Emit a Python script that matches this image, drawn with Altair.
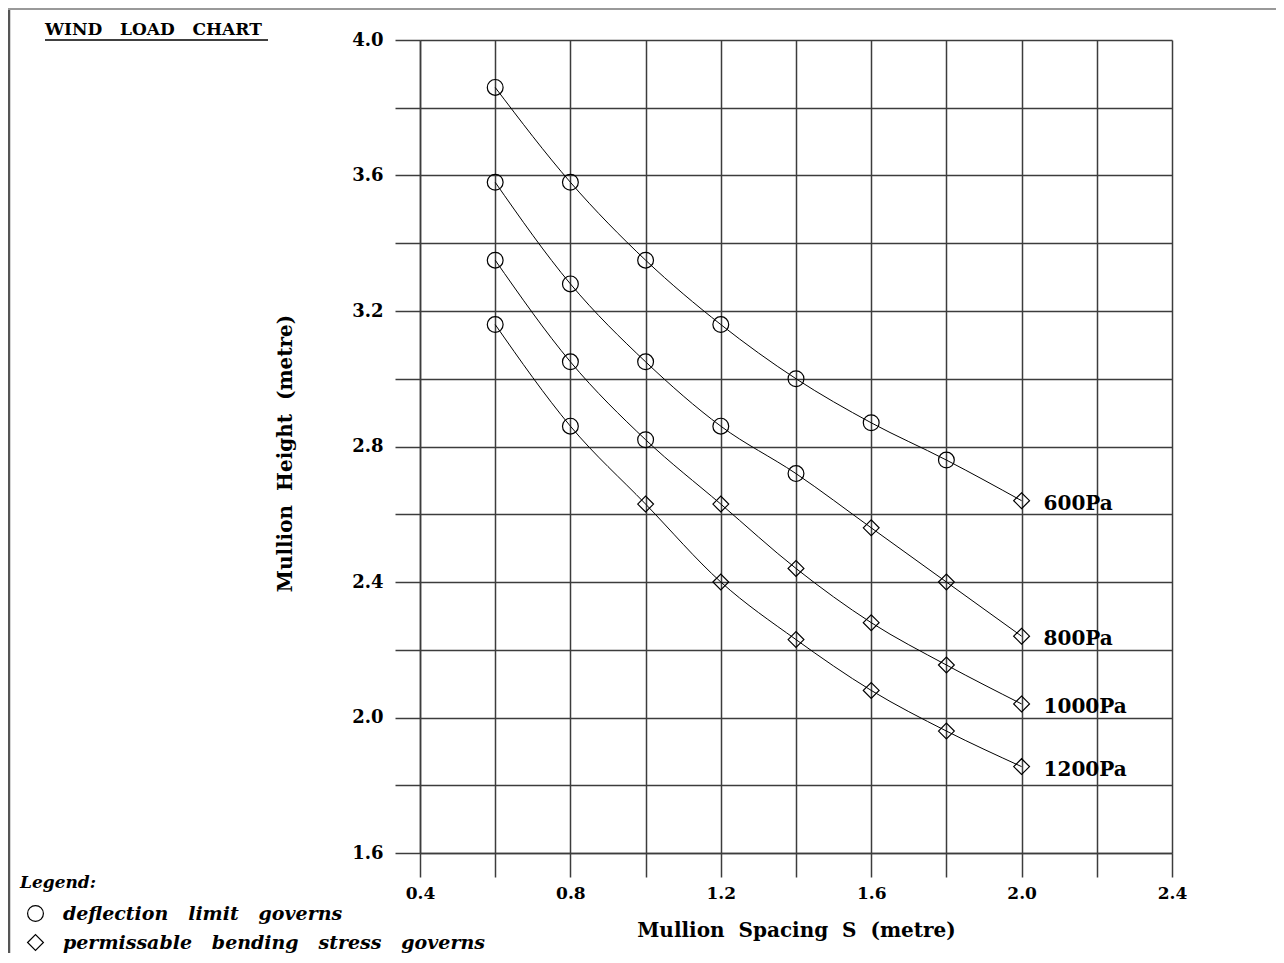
import altair as alt
import pandas as pd

# ---- data ----
spacing = [0.6, 0.8, 1.0, 1.2, 1.4, 1.6, 1.8, 2.0]
loads = ["600Pa", "800Pa", "1000Pa", "1200Pa"]
h600 = [3.86, 3.58, 3.35, 3.16, 3.00, 2.87, 2.76, 2.64]
h800 = [3.58, 3.28, 3.05, 2.86, 2.72, 2.56, 2.40, 2.24]
h1000 = [3.35, 3.05, 2.82, 2.63, 2.44, 2.28, 2.155, 2.04]
h1200 = [3.16, 2.86, 2.63, 2.40, 2.23, 2.08, 1.96, 1.855]
# largest spacing at which the deflection limit still governs (circle markers)
deflection_up_to = [1.8, 1.4, 1.0, 0.8]

SP3 = "\u00a0\u00a0\u00a0"
SP2 = "\u00a0\u00a0"
governs_names = ["deflection" + SP3 + "limit" + SP3 + "governs",
                 "permissable" + SP3 + "bending" + SP3 + "stress" + SP3 + "governs"]

x_ticks = [0.4, 0.5, 0.6, 0.7, 0.8, 0.9, 1.0, 1.1, 1.2, 1.3, 1.4, 1.5, 1.6, 1.7,
           1.8, 1.9, 2.0, 2.1, 2.2, 2.3, 2.4]
y_ticks = [1.6, 1.7, 1.8, 1.9, 2.0, 2.1, 2.2, 2.3, 2.4, 2.5, 2.6, 2.7, 2.8, 2.9,
           3.0, 3.1, 3.2, 3.3, 3.4, 3.5, 3.6, 3.7, 3.8, 3.9, 4.0]

title_text = "WIND" + SP3 + "LOAD" + SP3 + "CHART"
x_title = "Mullion" + SP2 + "Spacing" + SP2 + "S" + SP2 + "(metre)"
y_title = "Mullion" + SP2 + "Height" + SP2 + "(metre)"

rows = []
for load, hs, lim in zip(loads, [h600, h800, h1000, h1200], deflection_up_to):
    for s, h in zip(spacing, hs):
        rows.append({"load": load, "S": s, "H": h,
                     "governs": governs_names[0] if s <= lim + 1e-9 else governs_names[1]})
df = pd.DataFrame(rows)
label_df = df[df["S"] == spacing[-1]]

FONT = "DejaVu Serif"
major = "round(datum.value*10) % 2 == 0"
label_expr = "round(datum.value*10) % 4 == 0 ? format(datum.value, '.1f') : ''"

xscale = alt.Scale(domain=[0.4, 2.4], nice=False, zero=False)
yscale = alt.Scale(domain=[1.6, 4.0], nice=False, zero=False)

xaxis = alt.Axis(values=x_ticks, labelExpr=label_expr, title=x_title,
                 grid=True, gridColor="#3c3c3c", gridWidth=1.5,
                 gridOpacity={"condition": {"test": major, "value": 1}, "value": 0},
                 tickSize={"condition": {"test": major, "value": 24}, "value": 14},
                 tickColor="#3c3c3c", tickWidth=1.5,
                 domainColor="#3c3c3c", domainWidth=1.5,
                 labelFont=FONT, labelFontSize=17, labelFontWeight="bold", labelColor="black",
                 labelPadding=8, labelFlush=False,
                 titleFont=FONT, titleFontSize=20, titleFontWeight="bold", titleColor="black",
                 titleX=376, titleY=77, titleBaseline="middle")
yaxis = alt.Axis(values=y_ticks, labelExpr=label_expr, title=y_title,
                 grid=True, gridColor="#3c3c3c", gridWidth=1.5,
                 gridOpacity={"condition": {"test": major, "value": 1}, "value": 0},
                 tickSize={"condition": {"test": major, "value": 25}, "value": 12},
                 tickColor="#3c3c3c", tickWidth=1.5,
                 domainColor="#3c3c3c", domainWidth=1.5,
                 labelFont=FONT, labelFontSize=18, labelFontWeight="bold", labelColor="black",
                 labelPadding=12, labelFlush=False,
                 titleFont=FONT, titleFontSize=20, titleFontWeight="bold", titleColor="black",
                 titleX=-135, titleY=413, titleBaseline="middle", titleAngle=-90)

base = alt.Chart(df)
X = alt.X("S:Q", scale=xscale, axis=xaxis)
Y = alt.Y("H:Q", scale=yscale, axis=yaxis)

lines = base.mark_line(color="black", strokeWidth=1, interpolate="monotone").encode(
    x=X, y=Y, detail="load:N")

points = base.mark_point(filled=False, color="black", size=250, strokeWidth=1.2,
                         opacity=1).encode(
    x=X, y=Y,
    shape=alt.Shape("governs:N",
                    scale=alt.Scale(domain=governs_names, range=["circle", "diamond"]),
                    legend=alt.Legend(title="Legend:", orient="none", legendX=-400,
                                      legendY=835, padding=0,
                                      titleFont=FONT, titleFontSize=17,
                                      titleFontStyle="italic", titleFontWeight="bold",
                                      titleColor="black", titlePadding=12,
                                      labelFont=FONT, labelFontSize=19,
                                      labelFontStyle="italic", labelFontWeight="bold",
                                      labelColor="black", labelOffset=18, labelLimit=600,
                                      symbolSize=250, symbolStrokeColor="black",
                                      symbolStrokeWidth=1.2, symbolFillColor="transparent",
                                      symbolOffset=6, rowPadding=8)))

labels = alt.Chart(label_df).mark_text(align="left", baseline="middle", dx=22, dy=3,
                                       font=FONT, fontSize=20, fontWeight="bold",
                                       color="black").encode(
    x=alt.X("S:Q", scale=xscale), y=alt.Y("H:Q", scale=yscale), text="load:N")

title_df = pd.DataFrame({"t": [title_text]})
title = alt.Chart(title_df).mark_text(align="left", baseline="alphabetic", font=FONT,
                                      fontSize=17, fontWeight="bold", color="black").encode(
    x=alt.value(-375), y=alt.value(-5), text="t:N")
underline = alt.Chart(title_df).mark_rule(color="black", strokeWidth=1.5).encode(
    x=alt.value(-375), x2=alt.value(-152), y=alt.value(0))

frame_left = alt.Chart(title_df).mark_rule(color="#555", strokeWidth=2.5).encode(
    x=alt.value(-411), y=alt.value(-40), y2=alt.value(920))
frame_top = alt.Chart(title_df).mark_rule(color="#999", strokeWidth=2).encode(
    x=alt.value(-412), x2=alt.value(870), y=alt.value(-31))

chart = alt.layer(frame_left, frame_top, lines, points, labels, title, underline).properties(
    width=752, height=813,
    autosize=alt.AutoSizeParams(type="none"),
    padding={"left": 412, "top": 32, "right": 104, "bottom": 100},
    background="white",
).configure_view(stroke=None)

chart.save("out.html", embed_options={"renderer": "svg", "actions": False})
